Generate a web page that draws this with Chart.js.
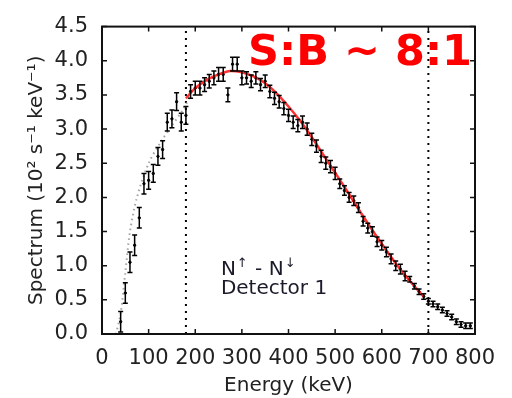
<!DOCTYPE html>
<html>
<head>
<meta charset="utf-8">
<script src="https://cdn.jsdelivr.net/npm/chart.js@4"></script>
<style>
html,body{margin:0;padding:0;background:#fff;}
#wrap{width:512px;height:398px;}
</style>
</head>
<body>
<div id="wrap"><canvas id="c" width="512" height="398"></canvas></div>
<script>
const energy = [40,50,60,70,80,90,100,110,120,130,140,150,160,170,180,190,200,210,220,230,240,250,260,270,280,290,300,310,320,330,340,350,360,370,380,390,400,410,420,430,440,450,460,470,480,490,500,510,520,530,540,550,560,570,580,590,600,610,620,630,640,650,660,670,680,690,700,710,720,730,740,750,760,770,780,790];
const spectrum = [0.18,0.6,1.05,1.3,1.7,2.2,2.25,2.35,2.6,2.7,3.1,3.15,3.4,3.1,3.2,3.55,3.6,3.6,3.65,3.7,3.75,3.8,3.8,3.5,3.95,3.95,3.75,3.75,3.7,3.75,3.65,3.7,3.55,3.45,3.4,3.3,3.2,3.1,3.05,3.1,3.0,2.85,2.75,2.6,2.5,2.45,2.35,2.2,2.1,2.0,1.95,1.85,1.65,1.55,1.5,1.35,1.3,1.2,1.1,1.0,0.95,0.85,0.8,0.7,0.62,0.55,0.48,0.44,0.4,0.35,0.3,0.25,0.18,0.14,0.12,0.12];
const spectrumErr = [0.15,0.15,0.15,0.15,0.15,0.15,0.13,0.13,0.13,0.13,0.13,0.13,0.13,0.13,0.13,0.1,0.1,0.1,0.1,0.1,0.1,0.1,0.1,0.1,0.1,0.1,0.1,0.09,0.09,0.09,0.09,0.09,0.09,0.09,0.09,0.09,0.09,0.09,0.09,0.09,0.09,0.09,0.09,0.09,0.09,0.09,0.09,0.07,0.07,0.07,0.07,0.07,0.07,0.07,0.07,0.07,0.07,0.07,0.07,0.07,0.07,0.07,0.04,0.04,0.04,0.04,0.04,0.04,0.04,0.04,0.04,0.04,0.04,0.04,0.04,0.04];
const fitEnergy = [180,200,225,250,275,300,325,350,375,400,425,450,475,500,525,550,575,600,625,650,675,690];
const fitValues = [3.45,3.6,3.72,3.8,3.85,3.83,3.77,3.67,3.52,3.33,3.12,2.88,2.62,2.36,2.1,1.83,1.57,1.32,1.08,0.86,0.66,0.55];
const modelEnergy = [30,40,50,60,75,100,125,150,175,190];
const modelValues = [0.0,0.3,0.9,1.5,2.0,2.5,2.8,3.05,3.3,3.5];
const cutEnergies = [180,700];
const xRange = [0,800];
const yRange = [0,4.5];
const annotationMain = 'S:B ~ 8:1';
const annotationLine2 = 'Detector 1';

Chart.defaults.font.family = 'DejaVu Sans';
Chart.defaults.color = '#222';

const pts = (xs, ys) => xs.map((x, i) => ({x: x, y: ys[i]}));

const datasets = [
  {label:'model', data: pts(modelEnergy, modelValues), showLine:true, borderColor:'rgba(140,140,140,0.8)', borderWidth:2, borderDash:[1.5,3.5], pointRadius:0, tension:0.3},
  {label:'fit', data: pts(fitEnergy, fitValues), showLine:true, borderColor:'rgba(255,0,0,0.8)', borderWidth:2.5, pointRadius:0, tension:0.3},
];
cutEnergies.forEach(e => datasets.push({label:'cut', data:[{x:e,y:yRange[0]},{x:e,y:yRange[1]}], showLine:true, borderColor:'#000', borderWidth:2, borderDash:[2,5], pointRadius:0}));
datasets.push({label:'data', data: pts(energy, spectrum), showLine:false, pointRadius:1.2, pointBackgroundColor:'#000', pointBorderColor:'#000', errors: spectrumErr});

const errorBars = {
  id:'errorBars',
  afterDatasetsDraw(chart){
    const ctx = chart.ctx, xs = chart.scales.x, ys = chart.scales.y;
    chart.data.datasets.forEach(ds => {
      if (!ds.errors) return;
      ctx.save();
      ctx.strokeStyle = '#000';
      ctx.lineWidth = 1.5;
      ds.data.forEach((p, i) => {
        const x = xs.getPixelForValue(p.x);
        const y1 = ys.getPixelForValue(p.y + ds.errors[i]);
        const y2 = ys.getPixelForValue(p.y - ds.errors[i]);
        ctx.beginPath();
        ctx.moveTo(x, y1); ctx.lineTo(x, y2);
        ctx.moveTo(x-2.5, y1); ctx.lineTo(x+2.5, y1);
        ctx.moveTo(x-2.5, y2); ctx.lineTo(x+2.5, y2);
        ctx.stroke();
      });
      ctx.restore();
    });
  }
};

const frameTicks = {
  id:'frameTicks',
  afterDraw(chart){
    const ctx = chart.ctx, a = chart.chartArea, xs = chart.scales.x, ys = chart.scales.y;
    ctx.save();
    ctx.strokeStyle = '#111';
    ctx.lineWidth = 1.5;
    ctx.beginPath();
    xs.ticks.forEach(t => {
      const x = xs.getPixelForValue(t.value);
      ctx.moveTo(x, a.bottom); ctx.lineTo(x, a.bottom-5);
      ctx.moveTo(x, a.top); ctx.lineTo(x, a.top+5);
    });
    ys.ticks.forEach(t => {
      const y = ys.getPixelForValue(t.value);
      ctx.moveTo(a.left, y); ctx.lineTo(a.left+5, y);
      ctx.moveTo(a.right, y); ctx.lineTo(a.right-5, y);
    });
    ctx.stroke();
    ctx.lineWidth = 2;
    ctx.strokeRect(a.left, a.top, a.right-a.left, a.bottom-a.top);
    // annotations
    ctx.fillStyle = '#ff0000';
    ctx.font = 'bold 43px "DejaVu Sans"';
    ctx.textAlign = 'right';
    ctx.textBaseline = 'alphabetic';
    ctx.fillText(annotationMain, a.right - 3, a.top + 38);
    ctx.fillStyle = '#1a1a2a';
    ctx.textAlign = 'left';
    ctx.font = '20px "DejaVu Sans"';
    const bx = xs.getPixelForValue(255), by = ys.getPixelForValue(0.87);
    let cx = bx;
    ctx.fillText('N', cx, by); cx += ctx.measureText('N').width + 1;
    ctx.font = '13px "DejaVu Sans"';
    ctx.fillText('\u2191', cx, by - 8); cx += ctx.measureText('\u2191').width + 1;
    ctx.font = '20px "DejaVu Sans"';
    ctx.fillText(' - N', cx, by); cx += ctx.measureText(' - N').width + 1;
    ctx.font = '13px "DejaVu Sans"';
    ctx.fillText('\u2193', cx, by - 8);
    ctx.font = '20px "DejaVu Sans"';
    ctx.fillText(annotationLine2, bx, by + 19);
    ctx.restore();
  }
};

new Chart(document.getElementById('c'), {
  type:'scatter',
  data:{datasets},
  plugins:[errorBars, frameTicks],
  options:{
    responsive:false,
    animation:false,
    layout:{padding:{top:19,right:37,left:0,bottom:0}},
    plugins:{legend:{display:false}, tooltip:{enabled:false}},
    scales:{
      x:{
        type:'linear', min:xRange[0], max:xRange[1],
        grid:{display:false, drawTicks:false},
        border:{display:false},
        ticks:{stepSize:100, padding:12, font:{size:21}, color:'#222', maxRotation:0, autoSkip:false},
        title:{display:true, text:'Energy (keV)', font:{size:20}, color:'#222', padding:{top:0,bottom:0}},
        afterFit(s){ s.height = 64; }
      },
      y:{
        type:'linear', min:yRange[0], max:yRange[1],
        grid:{display:false, drawTicks:false},
        border:{display:false},
        ticks:{stepSize:0.5, padding:14, font:{size:21}, color:'#222', callback:v => v.toFixed(1)},
        title:{display:true, text:'Spectrum (10\u00B2 s\u207B\u00B9 keV\u207B\u00B9)', font:{size:20}, color:'#222', padding:{top:25,bottom:0}},
        afterFit(s){ s.width = 102; }
      }
    }
  }
});
</script>
</body>
</html>
